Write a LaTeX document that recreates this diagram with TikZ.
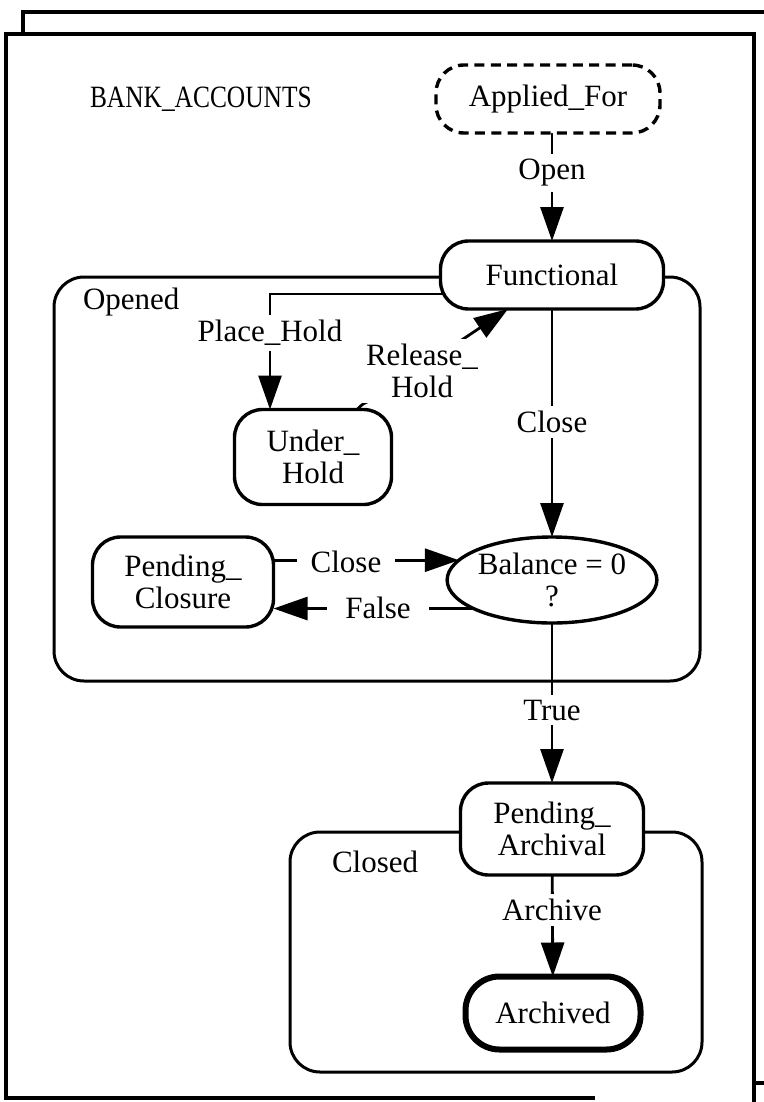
\documentclass[tikz,border=0pt]{standalone}
\usepackage{fontspec}
\setmainfont{Liberation Serif}
\usetikzlibrary{arrows.meta,shapes.geometric}
\pgfdeclarelayer{bg}
\pgfsetlayers{bg,main}
\begin{document}
\begin{tikzpicture}[x=0.5pt,y=-0.5pt,
  every node/.style={font=\fontsize{15.5}{16}\selectfont, inner sep=0pt, outer sep=0pt},
  state/.style={draw, line width=1.7pt, rounded corners=14pt, fill=white, align=center},
  lbl/.style={fill=white, inner xsep=5pt, inner ysep=2.5pt, align=center},
  conn/.style={line width=1.4pt},
  arr/.style={conn, -{Triangle[length=17pt,width=11.5pt]}},
  cont/.style={draw, line width=1.5pt, rounded corners=15pt},
  frame/.style={line width=2.4pt}
]
\useasboundingbox (0,0) rectangle (764,1102);

% frames
\draw[frame] (23,34) -- (23,12) -- (764,12);
\draw[frame] (754,1083) -- (764,1083);
\draw[frame] (754,1102) -- (754,34) -- (6,34) -- (6,1098) -- (595,1098);

% states
\node[state, dash pattern=on 5pt off 3.2pt, minimum width=112pt, minimum height=34pt] (app) at (548,99) {Applied\_For};
\node[state, minimum width=111.5pt, minimum height=34pt] (func) at (552,275) {Functional};
\node[state, minimum width=78.5pt, minimum height=47.5pt] (uh) at (313,457) {Under\_\\Hold};
\node[state, minimum width=90.5pt, minimum height=45pt] (pc) at (183,582) {Pending\_\\Closure};
\node[draw, ellipse, line width=1.7pt, fill=white, minimum width=96pt, minimum height=43pt, align=center] (bal) at (552,580) {Balance = 0\\?};
\node[state, minimum width=91.5pt, minimum height=46pt] (pa) at (552,829) {Pending\_\\Archival};
\node[state, line width=3pt, rounded corners=17pt, minimum width=87.5pt, minimum height=36.5pt] (arch) at (553,1013) {Archived};

% plain texts
\node[anchor=west] (title) at (90,99) {\scalebox{0.82}[1]{BANK\_ACCOUNTS}};
\node[anchor=west] (opl) at (83,302) {Opened};
\node[anchor=west] (cll) at (332,862) {Closed};

% transition labels
\node[lbl] (lopen) at (552,173) {Open};
\node[lbl] (lph) at (270,333) {Place\_Hold};
\node[lbl] (lrh) at (422,371) {Release\_\\Hold};
\node[lbl] (lclose) at (552,422) {Close};
\node[lbl, inner xsep=7pt] (lclose2) at (346,562) {Close};
\node[lbl, inner xsep=9pt] (lfalse) at (378,608) {False};
\node[lbl] (ltrue) at (552,710) {True};
\node[lbl] (larch) at (552,910) {Archive};

\coordinate (phy) at (0,294);

\begin{pgfonlayer}{bg}
\draw[cont] (54,277) rectangle (700,681);
\draw[cont] (290,832) rectangle (702,1072);
\draw[arr] (app.south -| func) -- (func);
\draw[arr] (func.center |- phy) -| (uh.north -| lph.center);
\draw[arr] ([xshift=22pt]uh.north) .. controls ([xshift=25pt,yshift=3pt]uh.north) .. ([xshift=30pt,yshift=5pt]uh.north) -- ([xshift=-22pt]func.south);
\draw[arr] (func) -- (bal);
\draw[arr] (pc.east |- bal.168) -- (bal.168);
\draw[arr] (bal.200) -- (pc.east |- bal.200);
\draw[arr] (bal) -- (pa);
\draw[arr] (pa) -- (arch);
\end{pgfonlayer}
\end{tikzpicture}
\end{document}
